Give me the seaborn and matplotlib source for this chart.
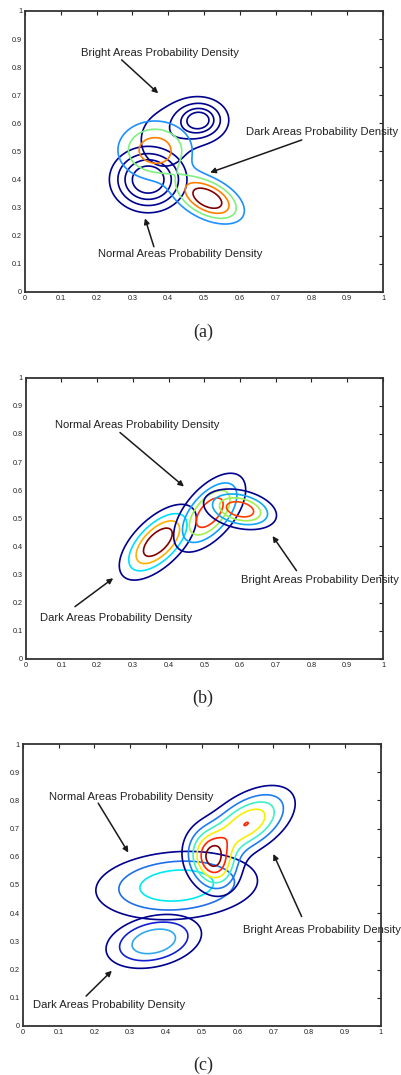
import numpy as np
import matplotlib
matplotlib.use("Agg")
import matplotlib.pyplot as plt
import seaborn as sns

# gaussian parts of each density: (weight, mean x, mean y, sigma major, sigma minor, angle deg)
a_normal = [(1.0, 0.344, 0.40, 0.066, 0.072, 0)]
a_normal_lv = [0.26, 0.44, 0.62, 0.80]
a_bright = [(1.0, 0.488, 0.612, 0.045, 0.045, 0), (0.36, 0.39, 0.54, 0.06, 0.085, 0)]
a_bright_lv = [0.20, 0.45, 0.70, 0.88]
a_dark = [(1.0, 0.51, 0.333, 0.068, 0.04, -38), (0.75, 0.363, 0.505, 0.066, 0.066, 0)]
a_dark_lv = [0.22, 0.40, 0.60, 0.80]

b_dark = [(1.0, 0.37, 0.415, 0.087, 0.041, 55)]
b_dark_lv = [0.2, 0.4, 0.6, 0.8]
b_normal = [(1.0, 0.515, 0.52, 0.087, 0.041, 60)]
b_normal_lv = [0.2, 0.4, 0.6, 0.8]
b_bright = [(1.0, 0.60, 0.532, 0.059, 0.037, -20)]
b_bright_lv = [0.2, 0.4, 0.6, 0.8]

c_normal = [(1.0, 0.43, 0.498, 0.146, 0.077, 6)]
c_normal_lv = [0.30, 0.54, 0.78]
c_dark = [(1.0, 0.366, 0.30, 0.089, 0.057, 20)]
c_dark_lv = [0.30, 0.54, 0.78]
c_bright = [(1.12, 0.531, 0.585, 0.042, 0.068, 10), (0.9965, 0.627, 0.719, 0.092, 0.052, 45)]
c_bright_lv = [0.2, 0.4, 0.6, 0.8, 1.0, 1.2]

tick_vals = [0, 0.1, 0.2, 0.3, 0.4, 0.5, 0.6, 0.7, 0.8, 0.9, 1]
tick_labels = ['0', '0.1', '0.2', '0.3', '0.4', '0.5', '0.6', '0.7', '0.8', '0.9', '1']

# annotations: (text, text left x, text y, arrow tail, arrow head)
a_notes = [("Bright Areas Probability Density", 0.156, 0.851, (0.27, 0.826), (0.372, 0.707)),
           ("Dark Areas Probability Density", 0.617, 0.569, (0.773, 0.541), (0.517, 0.425)),
           ("Normal Areas Probability Density", 0.205, 0.135, (0.36, 0.161), (0.335, 0.262))]
b_notes = [("Normal Areas Probability Density", 0.082, 0.831, (0.264, 0.805), (0.443, 0.613)),
           ("Bright Areas Probability Density", 0.602, 0.282, (0.758, 0.314), (0.691, 0.437)),
           ("Dark Areas Probability Density", 0.04, 0.145, (0.138, 0.186), (0.245, 0.287))]
c_notes = [("Normal Areas Probability Density", 0.074, 0.813, (0.211, 0.79), (0.295, 0.615)),
           ("Bright Areas Probability Density", 0.616, 0.34, (0.779, 0.388), (0.70, 0.61)),
           ("Dark Areas Probability Density", 0.03, 0.076, (0.177, 0.106), (0.249, 0.196))]

navy = '#00008F'

sns.set_theme(style="white")
plt.rcParams['font.family'] = ['Liberation Sans', 'DejaVu Sans']

def density(parts, X, Y):
    Z = np.zeros_like(X)
    for w, mx, my, s1, s2, ang in parts:
        t = np.deg2rad(ang)
        dx = X - mx
        dy = Y - my
        u = dx * np.cos(t) + dy * np.sin(t)
        v = -dx * np.sin(t) + dy * np.cos(t)
        Z += w * np.exp(-0.5 * ((u / s1) ** 2 + (v / s2) ** 2))
    return Z

gx = np.linspace(0, 1, 800)
X, Y = np.meshgrid(gx, gx)

fig = plt.figure(figsize=(4.01, 10.75), dpi=100)
ax_a = fig.add_axes([0.0623, 0.7284, 0.893, 0.2614])
ax_b = fig.add_axes([0.064, 0.387, 0.891, 0.2617])
ax_c = fig.add_axes([0.0566, 0.0456, 0.893, 0.2623])

panels = [
    (ax_a, [(a_normal, a_normal_lv, [navy] * 4),
            (a_bright, a_bright_lv, [navy] * 4),
            (a_dark, a_dark_lv, ['#1E90FF', '#80F080', '#FF8000', '#800000'])], a_notes, '(a)', 0.691),
    (ax_b, [(b_dark, b_dark_lv, [navy, '#00E0FF', '#FFB000', '#800000']),
            (b_normal, b_normal_lv, [navy, '#10A0FF', '#A0F050', '#FF3000']),
            (b_bright, b_bright_lv, [navy, '#10A8F0', '#A0F050', '#FF4000'])], b_notes, '(b)', 0.35),
    (ax_c, [(c_normal, c_normal_lv, [navy, '#1F6FE8', '#00E8F0']),
            (c_dark, c_dark_lv, [navy, '#1020D0', '#30A8F0']),
            (c_bright, c_bright_lv, [navy, '#1E7CF0', '#40F0C8', '#F8F000', '#FF2800', '#800000'])],
     c_notes, '(c)', 0.0093),
]

for ax, dens, notes, tag, ty in panels:
    for parts, lv, cols in dens:
        Z = density(parts, X, Y)
        ax.contour(X, Y, Z, levels=lv, colors=cols, linewidths=1.2)
    for s, tx, tyy, tail, head in notes:
        ax.text(tx, tyy, s, fontsize=8.1, ha='left', va='center', color='#222222', clip_on=False)
        ax.annotate('', xy=head, xytext=tail,
                    arrowprops=dict(arrowstyle='-|>', color='k', lw=1.1, mutation_scale=8,
                                    shrinkA=0, shrinkB=0))
    ax.set_xlim(0, 1)
    ax.set_ylim(0, 1)
    ax.set_xticks(tick_vals)
    ax.set_xticklabels(tick_labels)
    ax.set_yticks(tick_vals)
    ax.set_yticklabels(tick_labels)
    ax.tick_params(direction='in', length=3, width=0.8, top=True, right=True,
                   labelsize=5.2, pad=2, colors='#222222')
    for sp in ax.spines.values():
        sp.set_linewidth(1.3)
        sp.set_color('#333333')
    fig.text(0.506, ty, tag, fontsize=13, ha='center', va='center',
             family=['Liberation Serif', 'DejaVu Serif'])

fig.savefig('out.png', dpi=100)
